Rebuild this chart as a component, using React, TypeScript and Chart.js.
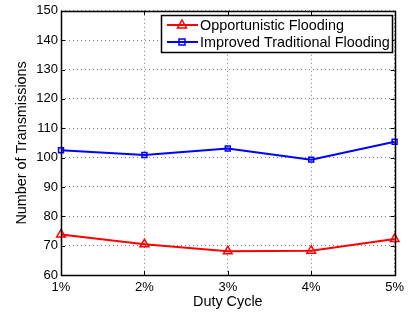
import React, { useEffect, useRef } from "react";
import { Chart, registerables } from "chart.js";

Chart.register(...registerables);

const categories = ["1%", "2%", "3%", "4%", "5%"];
const opportunistic = [73.8, 70.5, 68.1, 68.3, 72.3];
const improvedTraditional = [102.5, 100.9, 103.1, 99.3, 105.4];
const yTicks = [60, 70, 80, 90, 100, 110, 120, 130, 140, 150];
const seriesNames = ["Opportunistic Flooding", "Improved Traditional Flooding"];

const FONT = "'Liberation Sans', Arial, Helvetica, sans-serif";

const boxPlugin = {
  id: "matlabBox",
  afterDraw(chart: any) {
    const { ctx, chartArea } = chart;
    const { left, right, top, bottom } = chartArea;
    const xs = chart.scales.x;
    const ys = chart.scales.y;
    ctx.save();
    ctx.strokeStyle = "#000";
    ctx.lineWidth = 1;
    const tl = 4;
    ctx.beginPath();
    categories.forEach((_, i) => {
      const px = Math.round(xs.getPixelForValue(i)) + 0.5;
      ctx.moveTo(px, bottom);
      ctx.lineTo(px, bottom - tl);
      ctx.moveTo(px, top);
      ctx.lineTo(px, top + tl);
    });
    yTicks.forEach((v) => {
      const py = Math.round(ys.getPixelForValue(v)) + 0.5;
      ctx.moveTo(left, py);
      ctx.lineTo(left + tl, py);
      ctx.moveTo(right, py);
      ctx.lineTo(right - tl, py);
    });
    ctx.stroke();
    ctx.lineWidth = 1.5;
    ctx.strokeRect(Math.round(left) + 0.5, Math.round(top) + 0.5, Math.round(right - left), Math.round(bottom - top));

    // legend
    const lx = 161, ly = 15, lw = 231, lh = 37;
    ctx.fillStyle = "#fff";
    ctx.fillRect(lx, ly, lw, lh);
    ctx.lineWidth = 1.5;
    ctx.strokeStyle = "#000";
    ctx.strokeRect(lx + 0.5, ly + 0.5, lw, lh);
    const rows = [ly + 10, ly + 27];
    chart.data.datasets.forEach((ds: any, i: number) => {
      const y = rows[i];
      ctx.strokeStyle = ds.borderColor;
      ctx.lineWidth = 2;
      ctx.beginPath();
      ctx.moveTo(lx + 6, y);
      ctx.lineTo(lx + 37, y);
      ctx.stroke();
      ctx.lineWidth = 1.5;
      if (ds.pointStyle === "triangle") {
        const r = 5;
        ctx.beginPath();
        ctx.moveTo(lx + 21, y - r);
        ctx.lineTo(lx + 21 + r * 0.9, y + r * 0.6);
        ctx.lineTo(lx + 21 - r * 0.9, y + r * 0.6);
        ctx.closePath();
        ctx.stroke();
      } else {
        ctx.strokeRect(lx + 18, y - 3, 6, 6);
      }
      ctx.fillStyle = "#000";
      ctx.font = `14.4px ${FONT}`;
      ctx.textBaseline = "middle";
      ctx.textAlign = "left";
      ctx.fillText(ds.label, lx + 39, y + 1);
    });
    ctx.restore();
  },
};

export default function App() {
  const ref = useRef<HTMLCanvasElement>(null);
  useEffect(() => {
    if (!ref.current) return;
    const chart = new Chart(ref.current, {
      type: "line",
      data: {
        labels: categories,
        datasets: [
          {
            label: seriesNames[0],
            data: opportunistic,
            borderColor: "#ff0000",
            backgroundColor: "rgba(0,0,0,0)",
            borderWidth: 2,
            pointStyle: "triangle",
            pointRadius: 5,
            pointBorderWidth: 1.5,
            pointBorderColor: "#ff0000",
            pointBackgroundColor: "rgba(255,0,0,0.1)",
            tension: 0,
          },
          {
            label: seriesNames[1],
            data: improvedTraditional,
            borderColor: "#0000ff",
            backgroundColor: "rgba(0,0,0,0)",
            borderWidth: 2,
            pointStyle: "rect",
            pointRadius: 3.5,
            pointBorderWidth: 1.5,
            pointBorderColor: "#0000ff",
            pointBackgroundColor: "rgba(0,0,255,0.1)",
            tension: 0,
          },
        ],
      },
      options: {
        responsive: false,
        animation: false,
        layout: { autoPadding: false, padding: { top: 9, right: 10, left: 0, bottom: 0 } },
        plugins: { legend: { display: false }, tooltip: { enabled: false } },
        scales: {
          x: {
            type: "category",
            offset: false,
            afterFit: (s: any) => {
              s.height = 37;
            },
            grid: { color: "rgba(0,0,0,0.5)", drawTicks: false, lineWidth: 1 },
            border: { display: false, dash: [1, 3] },
            ticks: { color: "#000", font: { family: FONT, size: 13 }, padding: 5, maxRotation: 0 },
            title: {
              display: true,
              text: "Duty Cycle",
              color: "#000",
              font: { family: FONT, size: 14.4 },
              padding: { top: 0, bottom: 1 },
            },
          },
          y: {
            min: 60,
            max: 150,
            afterFit: (s: any) => {
              s.width = 61;
            },
            afterBuildTicks: (s: any) => {
              s.ticks = yTicks.map((v) => ({ value: v }));
            },
            grid: { color: "rgba(0,0,0,0.5)", drawTicks: false, lineWidth: 1 },
            border: { display: false, dash: [1, 3] },
            ticks: { color: "#000", font: { family: FONT, size: 13 }, padding: 3 },
            title: {
              display: true,
              text: "Number of Transmissions",
              color: "#000",
              font: { family: FONT, size: 14.4 },
              padding: { top: 13, bottom: 0 },
            },
          },
        },
      },
      plugins: [boxPlugin],
    });
    return () => chart.destroy();
  }, []);
  return (
    <div style={{ position: "fixed", left: 0, top: 0, width: 409, height: 312, background: "#fff" }}>
      <canvas ref={ref} width={409} height={312} style={{ display: "block" }} />
    </div>
  );
}
